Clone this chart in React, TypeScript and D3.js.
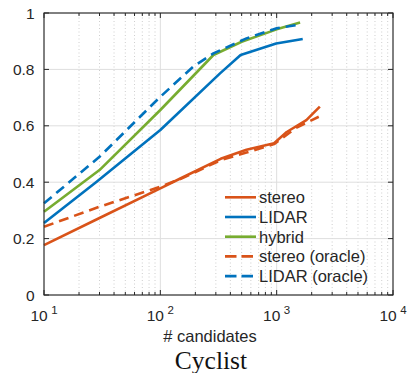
import React from "react";
import * as d3 from "d3";

// recall vs number of candidates
const stereoX = [10, 30, 100, 150, 330, 550, 950, 1220, 1800, 2350];
const stereoY = [0.177, 0.273, 0.378, 0.414, 0.483, 0.515, 0.538, 0.578, 0.62, 0.668];

const lidarX = [10, 28, 100, 326, 490, 990, 1675];
const lidarY = [0.255, 0.4, 0.585, 0.786, 0.851, 0.892, 0.908];

const hybridX = [10, 30, 100, 286, 500, 1000, 1590];
const hybridY = [0.295, 0.443, 0.656, 0.851, 0.898, 0.942, 0.966];

const stereoOracleX = [10, 30, 100, 150, 330, 550, 950, 1500, 2300];
const stereoOracleY = [0.242, 0.313, 0.384, 0.412, 0.478, 0.505, 0.535, 0.595, 0.632];

const lidarOracleX = [10, 30, 100, 192, 286, 550, 1000, 1480];
const lidarOracleY = [0.325, 0.49, 0.703, 0.81, 0.857, 0.91, 0.946, 0.957];

const yTicks = [0, 0.2, 0.4, 0.6, 0.8, 1];
const xDecades = [1, 2, 3, 4];

const ORANGE = "#D95319";
const BLUE = "#0072BD";
const GREEN = "#77AC30";

const series = [
  { name: "stereo", xs: stereoX, ys: stereoY, color: ORANGE, dashed: false },
  { name: "LIDAR", xs: lidarX, ys: lidarY, color: BLUE, dashed: false },
  { name: "hybrid", xs: hybridX, ys: hybridY, color: GREEN, dashed: false },
  { name: "stereo (oracle)", xs: stereoOracleX, ys: stereoOracleY, color: ORANGE, dashed: true },
  { name: "LIDAR (oracle)", xs: lidarOracleX, ys: lidarOracleY, color: BLUE, dashed: true },
];

const W = 407;
const H = 373;
const margin = { left: 44, right: 14, top: 13, bottom: 78 };

export default function App() {
  const x = d3
    .scaleLog()
    .domain([10, 10000])
    .range([margin.left, W - margin.right]);
  const y = d3
    .scaleLinear()
    .domain([0, 1])
    .range([H - margin.bottom, margin.top]);

  const [x0, x1] = x.range();
  const [y0, y1] = y.range();

  const minorTicks: number[] = [];
  [1, 2, 3].forEach((k) => {
    for (let m = 2; m <= 9; m++) minorTicks.push(m * Math.pow(10, k));
  });

  const line = d3
    .line<[number, number]>()
    .x((d) => x(d[0]))
    .y((d) => y(d[1]));

  const axisColor = "#262626";
  const sans = "'Liberation Sans', Arial, Helvetica, sans-serif";

  // legend layout
  const legX = 225;
  const legY = 197.3;
  const legStep = 19.7;

  return (
    <div style={{ position: "fixed", left: 0, top: 0 }}>
      <svg width={W} height={H} style={{ display: "block", background: "#fff" }}>
        {/* minor vertical grid */}
        {minorTicks.map((t) => (
          <line
            key={"mg" + t}
            x1={x(t)}
            x2={x(t)}
            y1={y0}
            y2={y1}
            stroke="#c8c8c8"
            strokeWidth={0.9}
            strokeDasharray="1,2.5"
          />
        ))}
        {/* major grid */}
        {xDecades.map((k) => (
          <line
            key={"gx" + k}
            x1={x(Math.pow(10, k))}
            x2={x(Math.pow(10, k))}
            y1={y0}
            y2={y1}
            stroke="#dedede"
            strokeWidth={1}
          />
        ))}
        {yTicks.map((t) => (
          <line
            key={"gy" + t}
            x1={x0}
            x2={x1}
            y1={y(t)}
            y2={y(t)}
            stroke="#dedede"
            strokeWidth={1}
          />
        ))}

        {/* data lines */}
        {series.map((s) => (
          <path
            key={s.name}
            d={line(s.xs.map((v, i) => [v, s.ys[i]] as [number, number])) || ""}
            fill="none"
            stroke={s.color}
            strokeWidth={2.6}
            strokeDasharray={s.dashed ? "10,6" : undefined}
            strokeLinejoin="round"
          />
        ))}

        {/* axes box */}
        <rect
          x={x0}
          y={y1}
          width={x1 - x0}
          height={y0 - y1}
          fill="none"
          stroke={axisColor}
          strokeWidth={1.1}
        />
        {/* ticks */}
        {xDecades.map((k) => (
          <g key={"tx" + k}>
            <line x1={x(Math.pow(10, k))} x2={x(Math.pow(10, k))} y1={y0} y2={y0 - 5} stroke={axisColor} />
            <line x1={x(Math.pow(10, k))} x2={x(Math.pow(10, k))} y1={y1} y2={y1 + 5} stroke={axisColor} />
          </g>
        ))}
        {minorTicks.map((t) => (
          <g key={"mt" + t}>
            <line x1={x(t)} x2={x(t)} y1={y0} y2={y0 - 3} stroke={axisColor} />
            <line x1={x(t)} x2={x(t)} y1={y1} y2={y1 + 3} stroke={axisColor} />
          </g>
        ))}
        {yTicks.map((t) => (
          <g key={"ty" + t}>
            <line x1={x0} x2={x0 + 5} y1={y(t)} y2={y(t)} stroke={axisColor} />
            <line x1={x1} x2={x1 - 5} y1={y(t)} y2={y(t)} stroke={axisColor} />
          </g>
        ))}

        {/* y tick labels */}
        {yTicks.map((t) => (
          <text
            key={"ly" + t}
            x={x0 - 9.5}
            y={y(t)}
            dy="0.36em"
            textAnchor="end"
            fontFamily={sans}
            fontSize={15.5}
            fill={axisColor}
          >
            {String(t)}
          </text>
        ))}
        {/* x tick labels */}
        {xDecades.map((k) => (
          <text
            key={"lx" + k}
            x={x(Math.pow(10, k))}
            y={320.5}
            textAnchor="middle"
            fontFamily={sans}
            fontSize={15.5}
            fill={axisColor}
          >
            <tspan>10</tspan>
            <tspan fontSize={11.5} dx={3.5} dy={-7}>
              {k}
            </tspan>
          </text>
        ))}

        {/* axis label */}
        <text
          x={210}
          y={341.5}
          textAnchor="middle"
          fontFamily={sans}
          fontSize={16.5}
          fill={axisColor}
        >
          # candidates
        </text>
        {/* caption */}
        <text
          x={211}
          y={368.5}
          textAnchor="middle"
          fontFamily="'Liberation Serif', 'Times New Roman', serif"
          fontSize={25.5}
          fill="#111"
        >
          Cyclist
        </text>

        {/* legend */}
        {series.map((s, i) => (
          <g key={"leg" + s.name} transform={`translate(0,${legY + i * legStep})`}>
            <line
              x1={legX}
              x2={legX + 31}
              y1={0}
              y2={0}
              stroke={s.color}
              strokeWidth={2.6}
              strokeDasharray={s.dashed ? "11.5,5" : undefined}
            />
            <text
              x={legX + 34}
              y={0}
              dy="0.36em"
              fontFamily={sans}
              fontSize={16.5}
              fill={axisColor}
            >
              {s.name}
            </text>
          </g>
        ))}
      </svg>
    </div>
  );
}
